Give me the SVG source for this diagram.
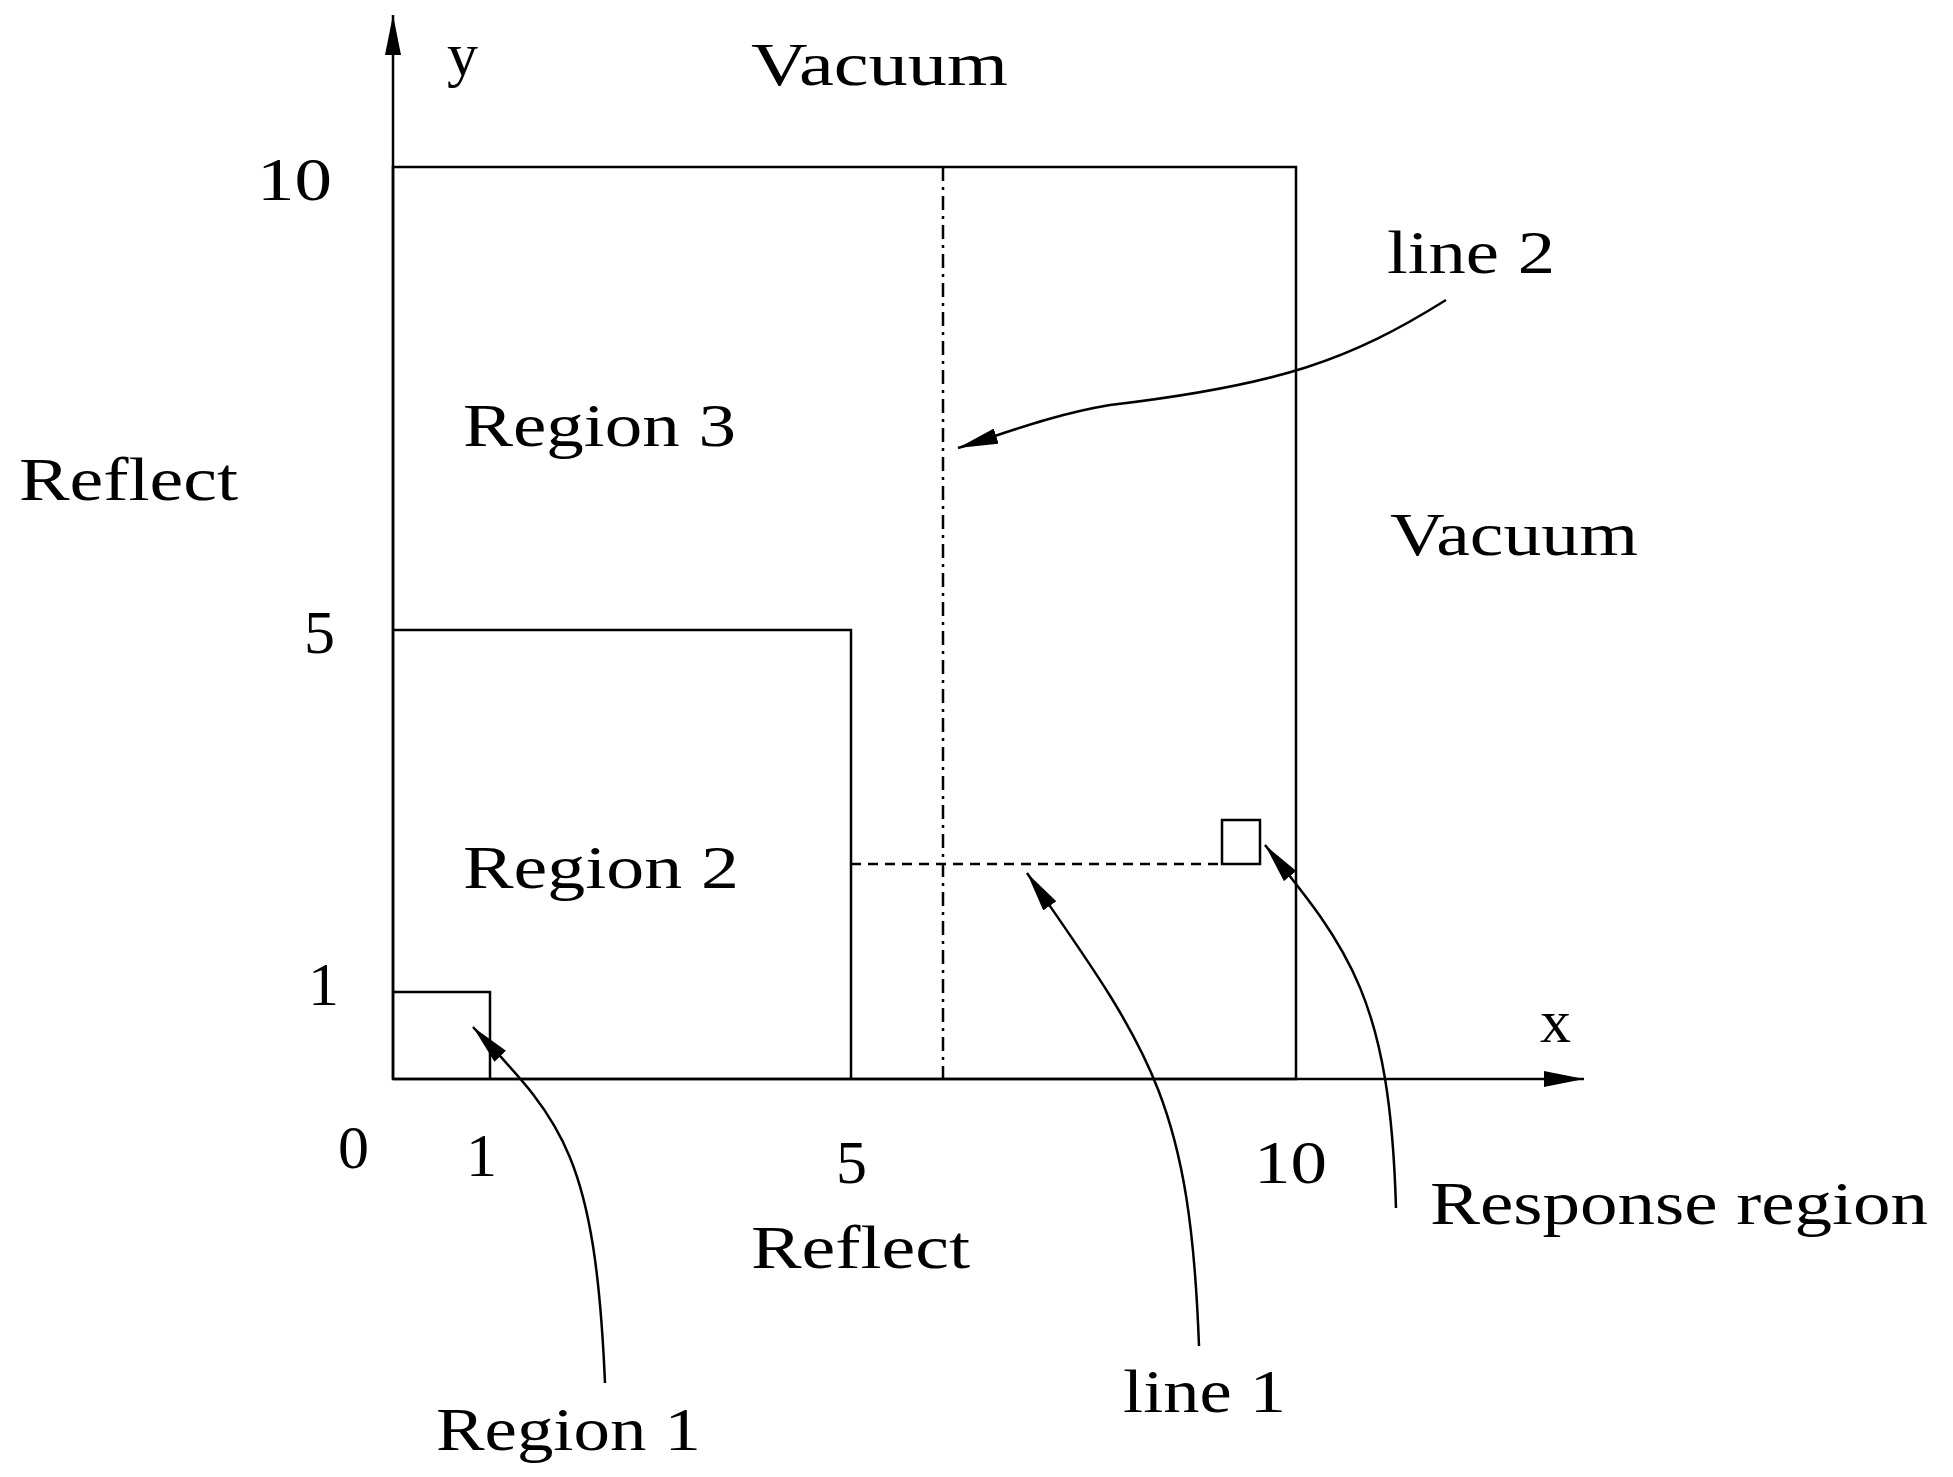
<svg xmlns="http://www.w3.org/2000/svg" width="1953" height="1477" viewBox="0 0 1953 1477">
<style>
text{font-family:"Liberation Serif","Times New Roman",serif;font-size:62px;fill:#000}
.l{fill:none;stroke:#000;stroke-width:2.5}
</style>
<defs>
<marker id="a" viewBox="0 0 20 10" refX="20" refY="5" markerWidth="20" markerHeight="10" markerUnits="userSpaceOnUse" orient="auto"><path d="M0,0L20,5L0,10z" fill="#000"/></marker>
<marker id="b" viewBox="0 0 40 16" refX="40" refY="8" markerWidth="40" markerHeight="16" markerUnits="userSpaceOnUse" orient="auto"><path d="M0,0L40,8L0,16z" fill="#000"/></marker>
</defs>
<g id="axes">
<line class="l" x1="393" y1="1079" x2="393" y2="15" marker-end="url(#b)"/>
<line class="l" x1="393" y1="1079" x2="1584" y2="1079" marker-end="url(#b)"/>
</g>
<g id="region3"><rect class="l" x="393" y="167" width="903" height="912"/></g>
<g id="region2"><polyline class="l" points="393,630 851,630 851,1079"/></g>
<g id="region1"><polyline class="l" points="393,992 490,992 490,1079"/></g>
<g id="response"><rect class="l" x="1222" y="820" width="38" height="44"/></g>
<g id="connectors">
<line class="l" x1="943" y1="167" x2="943" y2="1079" stroke-dasharray="14,6,3,6" stroke-width="2"/>
<line class="l" x1="851" y1="864" x2="1222" y2="864" stroke-dasharray="10,7" stroke-width="2"/>
<path class="l" d="M1446,300 C1350,360 1280,385 1110,405 C1050,415 1000,435 958,448" marker-end="url(#b)"/>
<path class="l" d="M1199,1346 C1190,1100 1150,1050 1027,873" marker-end="url(#b)"/>
<path class="l" d="M1396,1208 C1390,1000 1350,950 1265,845" marker-end="url(#b)"/>
<path class="l" d="M605,1383 C595,1150 560,1120 473,1027" marker-end="url(#b)"/>
</g>
<g id="labels">
<text x="447" y="75">y</text>
<text x="751" y="85" textLength="257" lengthAdjust="spacingAndGlyphs">Vacuum</text>
<text x="257" y="200" textLength="75" lengthAdjust="spacingAndGlyphs">10</text>
<text x="1387" y="273" textLength="168" lengthAdjust="spacingAndGlyphs">line 2</text>
<text x="463" y="446" textLength="273" lengthAdjust="spacingAndGlyphs">Region 3</text>
<text x="19" y="500" textLength="219" lengthAdjust="spacingAndGlyphs">Reflect</text>
<text x="1390" y="555" textLength="248" lengthAdjust="spacingAndGlyphs">Vacuum</text>
<text x="304" y="653">5</text>
<text x="463" y="888" textLength="276" lengthAdjust="spacingAndGlyphs">Region 2</text>
<text x="308" y="1005">1</text>
<text x="1540" y="1042">x</text>
<text x="338" y="1168">0</text>
<text x="466" y="1176">1</text>
<text x="836" y="1183">5</text>
<text x="1254" y="1183" textLength="73" lengthAdjust="spacingAndGlyphs">10</text>
<text x="1430" y="1224" textLength="498" lengthAdjust="spacingAndGlyphs">Response region</text>
<text x="751" y="1268" textLength="219" lengthAdjust="spacingAndGlyphs">Reflect</text>
<text x="1123" y="1412" textLength="163" lengthAdjust="spacingAndGlyphs">line 1</text>
<text x="436" y="1450" textLength="265" lengthAdjust="spacingAndGlyphs">Region 1</text>
</g>
</svg>
